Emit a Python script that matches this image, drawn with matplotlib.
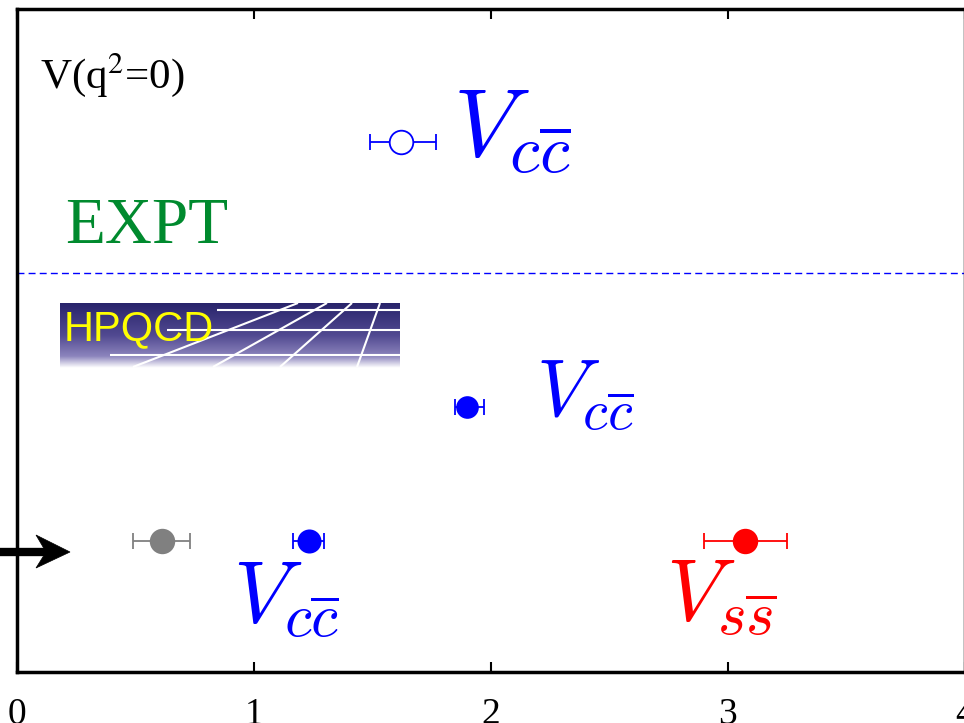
import numpy as np
import matplotlib
matplotlib.use("Agg")
import matplotlib.pyplot as plt
from matplotlib.colors import LinearSegmentedColormap
from matplotlib.patches import Polygon

plt.rcParams['mathtext.fontset'] = 'cm'

# ---- data ----
row_labels = ["expt", "lat_mid", "lat_low", "lat_low", "lat_low"]
x_centers = [1.62, 1.90, 0.61, 1.23, 3.07]
x_err_lo = [0.13, 0.05, 0.12, 0.065, 0.17]
x_err_hi = [0.15, 0.07, 0.12, 0.065, 0.18]
y_rows = [0.80, 0.40, 0.198, 0.198, 0.198]
colors = ["#0000ff", "#0000ff", "#808080", "#0000ff", "#ff0000"]
filled = [False, True, True, True, True]
marker_sizes = [17, 15, 17, 16, 17]
xticks = [0, 1, 2, 3, 4]
divider_y = 0.602

fig = plt.figure(figsize=(9.64, 7.23), dpi=100)
W, H = 964, 723
ax = fig.add_axes([17 / W, (H - 672) / H, (965 - 17) / W, (672 - 9) / H])
ax.set_xlim(0, 4)
ax.set_ylim(0, 1)

for x, lo, hi, y, c, f, ms in zip(x_centers, x_err_lo, x_err_hi, y_rows, colors, filled, marker_sizes):
    ax.errorbar([x], [y], xerr=[[lo], [hi]], fmt='o', color=c, ecolor=c,
                elinewidth=1.3, capsize=6, capthick=1.3, ms=ms,
                mfc=(c if f else 'white'), mec=c, mew=1.3, zorder=3)

ax.axhline(divider_y, color='#0000ff', lw=1.0, ls=(0, (5, 3)))

ax.set_xticks(xticks)
ax.set_xticklabels([str(t) for t in xticks], fontfamily='Liberation Serif', fontsize=27)
ax.set_yticks([])
ax.tick_params(axis='x', direction='in', top=True, bottom=True, length=7, width=1.5, pad=18)
for s in ax.spines.values():
    s.set_linewidth(2.5)

lab = r'$V_{c\overline{c}}$'
ax.text(1.84, 0.777, lab, color='#0000ff', fontsize=70, ha='left', va='baseline')
ax.text(2.19, 0.385, lab, color='#0000ff', fontsize=58, ha='left', va='baseline')
ax.text(0.91, 0.073, lab, color='#0000ff', fontsize=63, ha='left', va='baseline')
ax.text(2.74, 0.077, r'$V_{s\overline{s}}$', color='#ff0000', fontsize=63, ha='left', va='baseline')

ax.text(0.097, 0.881, r'V(q$^{2}$=0)', fontfamily='Liberation Serif', math_fontfamily='stix',
        fontsize=31, ha='left', va='baseline', color='black')
ax.text(0.203, 0.647, 'EXPT', fontfamily='Liberation Serif', fontsize=47,
        ha='left', va='baseline', color='#008a2e')

# ---- overlay in pixel space: logo and arrow ----
ov = fig.add_axes([0, 0, 1, 1])
ov.set_xlim(0, W)
ov.set_ylim(H, 0)
ov.axis('off')
ov.patch.set_alpha(0)

cmap = LinearSegmentedColormap.from_list(
    'hp', [(0.0, (0.16, 0.14, 0.42)), (0.5, (0.32, 0.29, 0.57)),
           (0.82, (0.55, 0.52, 0.74)), (1.0, (1.0, 1.0, 1.0))])
grad = np.linspace(0, 1, 200).reshape(-1, 1)
ov.imshow(grad, cmap=cmap, extent=[60, 400, 368, 303], aspect='auto', zorder=1)
for (x0, y0, x1, y1) in [(217, 310, 400, 310), (167, 330, 400, 330), (110, 355, 400, 355),
                         (298, 303, 133, 367), (327, 303, 213, 367),
                         (352, 303, 280, 367), (380, 303, 357, 367)]:
    ov.plot([x0, x1], [y0, y1], color='white', lw=1.5, zorder=2, solid_capstyle='butt')
ov.text(64, 340, 'HPQCD', color='#ffff00', fontfamily='Liberation Sans', fontsize=30,
        ha='left', va='baseline', zorder=3)

# arrow
ov.plot([0, 50], [552, 552], color='black', lw=6, solid_capstyle='butt', zorder=4)
ov.add_patch(Polygon([(70, 552), (36, 535), (46, 552), (36, 568)], closed=True,
                     facecolor='black', edgecolor='black', lw=0.5, zorder=5))

fig.savefig('out.png', dpi=100)
